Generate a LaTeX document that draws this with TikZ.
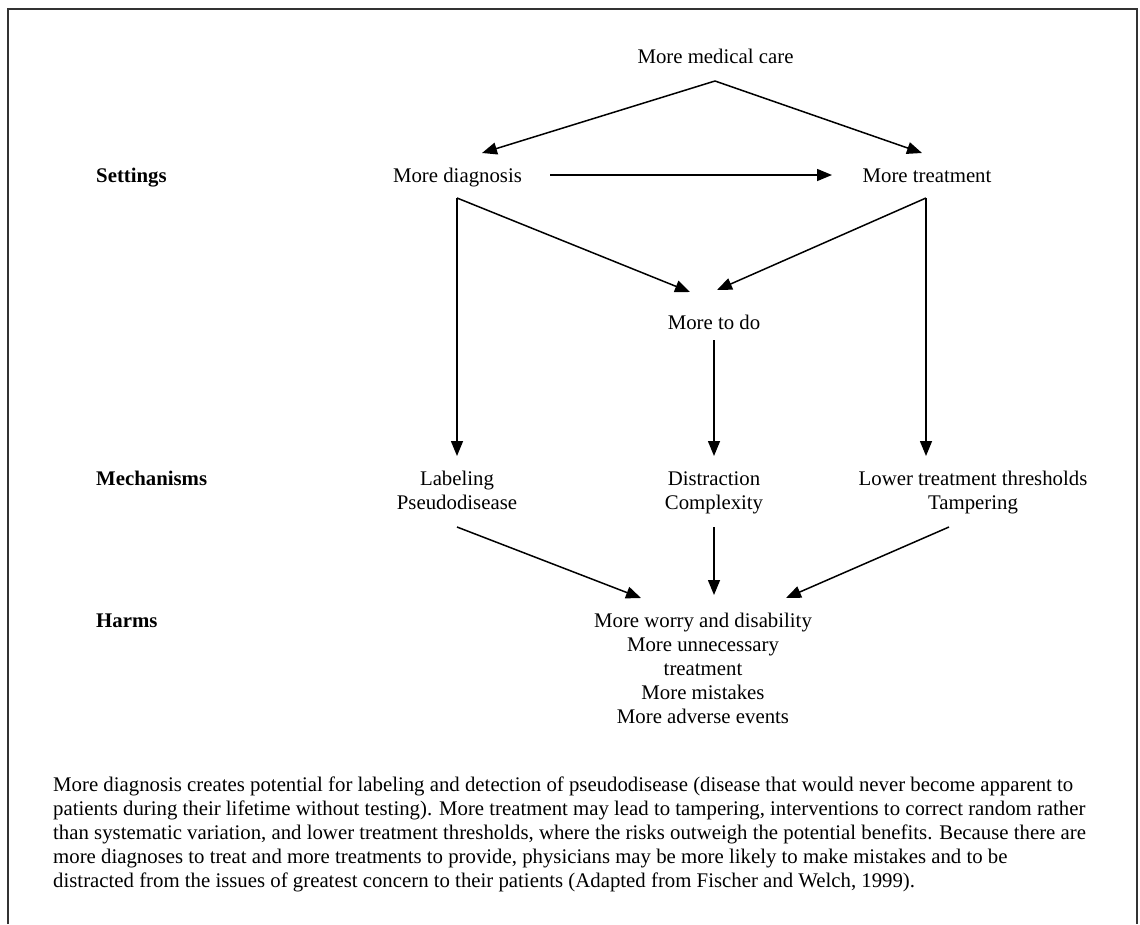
\documentclass[tikz,border=0pt]{standalone}
\usepackage{fontspec}
\setmainfont{Liberation Serif}
\usetikzlibrary{arrows.meta}
\begin{document}
\begin{tikzpicture}[x=1pt,y=-1pt,
  txt/.style={anchor=north, align=center, inner sep=0pt, font=\fontsize{20.8}{24}\selectfont},
  lvl/.style={anchor=base west, inner sep=0pt, font=\fontsize{20.8}{24}\selectfont\bfseries},
  arr/.style={line width=1.5pt, -{Triangle[length=15pt,width=12pt]}},
  frame/.style={line width=2pt, draw=black!80}
  ]
\useasboundingbox (0,0) rectangle (1140,924);
% open frame round the figure
\draw[frame] (8,924) -- (8,9) -- (1137,9) -- (1137,924);

% level labels
\node[lvl] (settings) at (96,182) {Settings};
\node[lvl] (mechanisms) at (96,485) {Mechanisms};
\node[lvl] (harmslbl) at (96,627) {Harms};

% nodes (placed by top edge = first baseline - 16.8)
\node[txt] (care)  at (715.5,46.2)  {\strut More medical care};
\node[txt] (diag)  at (457.5,165.2) {\strut More diagnosis};
\node[txt] (treat) at (927,165.2)   {\strut More treatment};
\node[txt] (todo)  at (714,312.2)   {\strut More to do};
\node[txt] (lab)   at (457,468.2)   {\strut Labeling\\\strut Pseudodisease};
\node[txt] (dist)  at (714,468.2)   {\strut Distraction\\\strut Complexity};
\node[txt] (lower) at (973,468.2)   {\strut Lower treatment thresholds\\\strut Tampering};
\node[txt] (harms) at (703,610.2)   {\strut More worry and disability\\\strut More unnecessary\\\strut treatment\\\strut More mistakes\\\strut More adverse events};

% branch points and arrow ends
\coordinate (apex)    at (715,81);
\coordinate (diagIn)  at (482,153);
\coordinate (treatIn) at (922,153);
\coordinate (hStart)  at (550,175);
\coordinate (hEnd)    at (832,175);
\coordinate (dSplit)  at (457,198);
\coordinate (tSplit)  at (926,198);
\coordinate (todoL)   at (690,292);
\coordinate (todoR)   at (717,290);
\coordinate (labIn)   at (457,456);
\coordinate (todoOut) at (714,340);
\coordinate (distIn)  at (714,456);
\coordinate (lowIn)   at (926,456);
\coordinate (labOut)  at (457,527);
\coordinate (distOut) at (714,527);
\coordinate (lowOut)  at (949,527);
\coordinate (harmsL)  at (641,598);
\coordinate (harmsM)  at (714,595);
\coordinate (harmsR)  at (786,598);

% connectors
\draw[arr] (apex) -- (diagIn);
\draw[arr] (apex) -- (treatIn);
\draw[arr] (hStart) -- (hEnd);
\draw[arr] (dSplit) -- (labIn);
\draw[arr] (dSplit) -- (todoL);
\draw[arr] (tSplit) -- (lowIn);
\draw[arr] (tSplit) -- (todoR);
\draw[arr] (todoOut) -- (distIn);
\draw[arr] (labOut) -- (harmsL);
\draw[arr] (distOut) -- (harmsM);
\draw[arr] (lowOut) -- (harmsR);

% caption
\node[anchor=north west, align=left, inner sep=0pt, font=\fontsize{20.8}{24}\selectfont] (caption) at (53,774.2)
{\strut More diagnosis creates potential for labeling and detection of pseudodisease (disease that would never become apparent to\\
\strut patients during their lifetime without testing). More treatment may lead to tampering, interventions to correct random rather\\
\strut than systematic variation, and lower treatment thresholds, where the risks outweigh the potential benefits. Because there are\\
\strut more diagnoses to treat and more treatments to provide, physicians may be more likely to make mistakes and to be\\
\strut distracted from the issues of greatest concern to their patients (Adapted from Fischer and Welch, 1999).};
\end{tikzpicture}
\end{document}
